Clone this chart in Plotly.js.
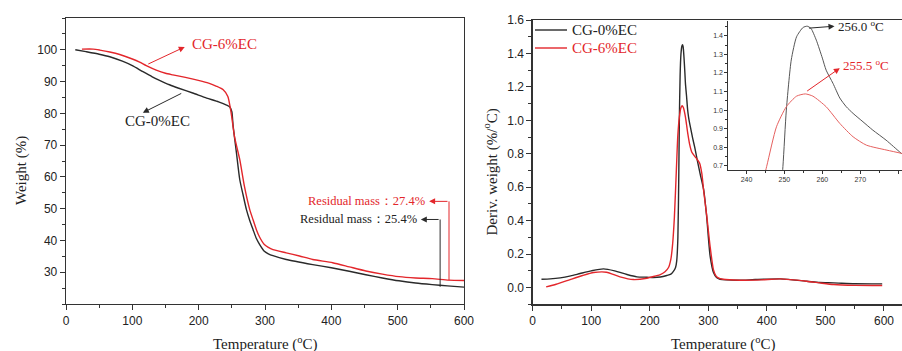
<!DOCTYPE html>
<html>
<head>
<meta charset="utf-8">
<script src="https://cdn.plot.ly/plotly-3.0.1.min.js"></script>
<style>html,body{margin:0;padding:0;background:#fff}#chart{width:902px;height:351px}</style>
</head>
<body>
<div id="chart"></div>
<script>
// ---- TGA (left panel) ----
const tgaT0 = [14, 30, 50, 66, 85, 100, 116, 130, 141, 156, 170, 191, 212, 230, 242, 247, 250, 252, 257, 262, 267, 272, 277, 282, 287, 292, 299, 305, 312, 332, 372, 400, 427, 452, 477, 502, 527, 552, 575, 600];
const tgaW0 = [100, 99.4, 98.6, 97.8, 96.4, 95.0, 93.1, 91.5, 90.4, 89.0, 87.9, 86.4, 84.8, 83.6, 82.6, 82.0, 80.5, 75.9, 67.5, 59.1, 54.3, 49.7, 46.3, 43.4, 40.6, 38.7, 36.6, 35.8, 35.2, 34.0, 32.4, 31.4, 30.3, 29.2, 28.2, 27.3, 26.6, 26.1, 25.7, 25.3];
const tgaT6 = [24, 41, 51, 66, 81, 100, 111, 121, 136, 150, 161, 180, 201, 215, 227, 237, 244, 249, 254, 258, 262, 269, 277, 282, 287, 292, 299, 305, 312, 332, 352, 372, 402, 427, 452, 477, 502, 527, 552, 577, 600];
const tgaW6 = [100.2, 100.2, 99.9, 99.3, 98.5, 97.1, 96.1, 95.0, 93.6, 92.6, 92.1, 91.3, 90.3, 89.5, 88.5, 87.4, 85.3, 80.1, 72.7, 69.0, 65.4, 57.0, 49.7, 46.5, 43.4, 41.0, 38.7, 37.8, 37.1, 36.1, 35.1, 34.0, 33.0, 31.7, 30.4, 29.4, 28.6, 28.2, 28.0, 27.5, 27.4];

// ---- DTG (right panel + inset) ----
const dtgT0 = [15, 30, 47, 65, 81, 100, 121, 140, 161, 178, 195, 206, 218, 229, 236, 240, 244, 246, 248, 249.6, 250.5, 251.8, 253.2, 254.9, 256.0, 257, 258.4, 260, 261, 262.8, 264.6, 266.3, 268.1, 270.7, 273.3, 276.8, 280.8, 286, 292, 297, 303, 309, 314, 320, 330, 354, 380, 423, 468, 490, 514, 550, 597];
const dtgV0 = [0.05, 0.052, 0.058, 0.07, 0.084, 0.1, 0.112, 0.1, 0.078, 0.064, 0.062, 0.06, 0.063, 0.072, 0.08, 0.095, 0.12, 0.16, 0.3, 0.695, 1.0, 1.27, 1.395, 1.445, 1.452, 1.44, 1.377, 1.28, 1.215, 1.144, 1.065, 1.018, 0.982, 0.937, 0.892, 0.838, 0.767, 0.68, 0.585, 0.43, 0.19, 0.088, 0.06, 0.05, 0.046, 0.044, 0.048, 0.052, 0.038, 0.03, 0.028, 0.023, 0.022];
const dtgT6 = [23, 40, 64, 85, 104, 126, 149, 172, 195, 210, 218, 226, 232, 236, 239, 242, 245.3, 247.9, 250.5, 253.2, 255.5, 257.5, 261, 264.6, 268.1, 271.6, 276.8, 280.8, 285, 289, 292, 297.4, 303, 308.7, 313, 317, 325, 354, 390, 423, 468, 490, 514, 550, 597];
const dtgV6 = [0.004, 0.02, 0.048, 0.072, 0.09, 0.092, 0.064, 0.048, 0.056, 0.07, 0.078, 0.095, 0.12, 0.17, 0.26, 0.42, 0.695, 0.91, 1.018, 1.075, 1.087, 1.075, 1.018, 0.928, 0.856, 0.811, 0.785, 0.767, 0.745, 0.68, 0.58, 0.426, 0.247, 0.107, 0.07, 0.058, 0.05, 0.044, 0.046, 0.052, 0.038, 0.028, 0.018, 0.013, 0.012];

const names = ['CG-0%EC', 'CG-6%EC'];
const BLACK = '#2a2a2a', RED = '#e3262b';
const SERIF = 'Liberation Serif, Times New Roman, serif';
const SANS = 'Liberation Sans, Arial, sans-serif';

const line = (c, w) => ({color: c, width: w, shape: 'spline', smoothing: 0.6});
const traces = [
  {x: tgaT0, y: tgaW0, xaxis: 'x', yaxis: 'y', mode: 'lines', line: line(BLACK, 1.4), hoverinfo: 'skip'},
  {x: tgaT6, y: tgaW6, xaxis: 'x', yaxis: 'y', mode: 'lines', line: line(RED, 1.4), hoverinfo: 'skip'},
  {x: dtgT0, y: dtgV0, xaxis: 'x2', yaxis: 'y2', mode: 'lines', name: names[0], line: line(BLACK, 1.4)},
  {x: dtgT6, y: dtgV6, xaxis: 'x2', yaxis: 'y2', mode: 'lines', name: names[1], line: line(RED, 1.4)},
  {x: dtgT0, y: dtgV0, xaxis: 'x3', yaxis: 'y3', mode: 'lines', line: line('#555', 1)},
  {x: dtgT6, y: dtgV6, xaxis: 'x3', yaxis: 'y3', mode: 'lines', line: line('#e5605f', 1)}
];

const W = 902, H = 351;
const px = v => v / W, py = v => 1 - v / H;
const axBase = {showline: true, linecolor: '#333', linewidth: 1.3, ticks: 'outside', ticklen: 5, tickwidth: 1, tickcolor: '#333',
  showgrid: false, zeroline: false, tickfont: {family: SANS, size: 12, color: '#222'}};
const title = (x, y, text, rot) => ({xref: 'paper', yref: 'paper', x: px(x), y: py(y), xanchor: 'center', yanchor: 'middle',
  text: text, textangle: rot, showarrow: false, font: {family: SERIF, size: 15, color: '#222'}});
const arrow = (xr, yr, x, y, ax, ay, c) => ({xref: xr, yref: yr, axref: xr, ayref: yr, x: x, y: y, ax: ax, ay: ay, text: '',
  showarrow: true, arrowhead: 2, arrowsize: 1.2, arrowwidth: 1, arrowcolor: c, standoff: 0});

const layout = {
  width: W, height: H, margin: {l: 0, r: 0, t: 0, b: 0},
  paper_bgcolor: '#fff', plot_bgcolor: 'rgba(0,0,0,0)',
  showlegend: false,
  xaxis: Object.assign({}, axBase, {domain: [px(66), px(464)], range: [0, 600], anchor: 'y', dtick: 100, mirror: true,
    minor: {dtick: 50, ticks: 'outside', ticklen: 3, tickcolor: '#333'}}),
  yaxis: Object.assign({}, axBase, {domain: [py(304), py(18)], range: [20, 110], anchor: 'x', tickvals: [30,40,50,60,70,80,90,100], mirror: true,
    minor: {dtick: 5, ticks: 'outside', ticklen: 3, tickcolor: '#333'}}),
  xaxis2: Object.assign({}, axBase, {domain: [px(532.7), 1], range: [0, 630.8], anchor: 'y2', dtick: 100, mirror: true,
    minor: {dtick: 50, ticks: 'outside', ticklen: 3, tickcolor: '#333'}}),
  yaxis2: Object.assign({}, axBase, {domain: [py(304.3), py(20)], range: [-0.1, 1.6], anchor: 'x2', dtick: 0.2, tickformat: '.1f',
    minor: {dtick: 0.1, ticks: 'outside', ticklen: 3, tickcolor: '#333'}}),
  xaxis3: Object.assign({}, axBase, {domain: [px(728.3), 1], range: [235.2, 281], anchor: 'y3', dtick: 10, linewidth: 1, ticklen: 3,
    tickfont: {family: SANS, size: 7, color: '#333'}, minor: {dtick: 5, ticks: 'outside', ticklen: 2, tickcolor: '#333'}}),
  yaxis3: Object.assign({}, axBase, {domain: [py(170), py(21)], range: [0.677, 1.48], anchor: 'x3', dtick: 0.1, tickformat: '.1f', linewidth: 1, ticklen: 3,
    tickfont: {family: SANS, size: 7, color: '#333'}, minor: {dtick: 0.05, ticks: 'outside', ticklen: 2, tickcolor: '#333'}}),
  shapes: [
    {type: 'line', xref: 'x', yref: 'y', x0: 577.4, x1: 577.4, y0: 27.4, y1: 52.3, line: {color: RED, width: 1}},
    {type: 'line', xref: 'x', yref: 'y', x0: 564, x1: 564, y0: 25.4, y1: 46.6, line: {color: BLACK, width: 1}},
    // legend samples (right panel)
    {type: 'line', xref: 'paper', yref: 'paper', x0: px(535), x1: px(567), y0: py(30), y1: py(30), line: {color: BLACK, width: 1.4}},
    {type: 'line', xref: 'paper', yref: 'paper', x0: px(535), x1: px(567), y0: py(48), y1: py(48), line: {color: RED, width: 1.4}}
  ],
  annotations: [
    title(21, 171, 'Weight (%)', -90),
    title(265.8, 343, 'Temperature (<sup>o</sup>C)', 0),
    title(491, 172.5, 'Deriv. weight (%/<sup>o</sup>C)', -90),
    title(723, 343, 'Temperature (<sup>o</sup>C)', 0),
    // legend texts
    {xref: 'paper', yref: 'paper', x: px(570), y: py(30), xanchor: 'left', yanchor: 'middle', text: names[0], showarrow: false,
      font: {family: SERIF, size: 15, color: '#222'}},
    {xref: 'paper', yref: 'paper', x: px(570), y: py(48), xanchor: 'left', yanchor: 'middle', text: names[1], showarrow: false,
      font: {family: SERIF, size: 15, color: RED}},
    // left panel labels
    {xref: 'x', yref: 'y', x: 186.5, y: 101.9, xanchor: 'left', yanchor: 'middle', text: names[1], showarrow: false, font: {family: SERIF, size: 15, color: RED}},
    arrow('x', 'y', 179, 100.9, 121.8, 95.3, RED),
    {xref: 'x', yref: 'y', x: 138.3, y: 77.7, xanchor: 'center', yanchor: 'middle', text: names[0], showarrow: false, font: {family: SERIF, size: 15, color: '#222'}},
    arrow('x', 'y', 115.8, 80.2, 176, 86.5, BLACK),
    {xref: 'x', yref: 'y', x: 544.5, y: 52.3, xanchor: 'right', yanchor: 'middle', text: 'Residual mass\uFF1A27.4%', showarrow: false,
      font: {family: SERIF, size: 12.5, color: RED}},
    arrow('x', 'y', 547.4, 52.3, 577.4, 52.3, RED),
    {xref: 'x', yref: 'y', x: 531.5, y: 46.6, xanchor: 'right', yanchor: 'middle', text: 'Residual mass\uFF1A25.4%', showarrow: false,
      font: {family: SERIF, size: 12.5, color: '#222'}},
    arrow('x', 'y', 534.9, 46.6, 564, 46.6, BLACK),
    // inset labels
    {xref: 'x3', yref: 'y3', x: 263.6, y: 1.452, xanchor: 'left', yanchor: 'middle', text: '256.0 <sup>o</sup>C', showarrow: false,
      font: {family: SERIF, size: 13, color: '#222'}},
    arrow('x3', 'y3', 263.2, 1.452, 256.1, 1.441, BLACK),
    {xref: 'x3', yref: 'y3', x: 264.8, y: 1.245, xanchor: 'left', yanchor: 'middle', text: '255.5 <sup>o</sup>C', showarrow: false,
      font: {family: SERIF, size: 13, color: RED}},
    arrow('x3', 'y3', 264.6, 1.226, 255.6, 1.097, RED)
  ]
};

Plotly.newPlot('chart', traces, layout, {staticPlot: true, displayModeBar: false});
</script>
</body>
</html>
